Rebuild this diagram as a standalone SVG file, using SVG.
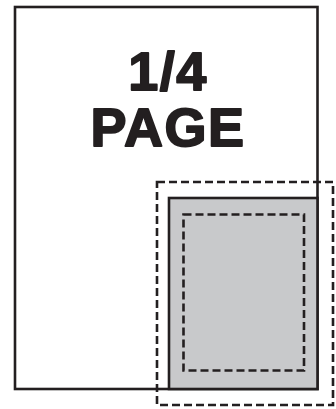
<svg xmlns="http://www.w3.org/2000/svg" width="336" height="409" viewBox="0 0 336 409">
<style>
.line{fill:none;stroke:#231f20;stroke-width:2.6}
.dash{fill:none;stroke:#231f20;stroke-width:2.6;stroke-dasharray:8 4}
.label{font-family:"Liberation Sans",Arial,sans-serif;font-weight:bold;font-size:54px;letter-spacing:1.5px;fill:#231f20;stroke:#231f20;stroke-width:1.8;stroke-linejoin:round;text-anchor:middle}
</style>
<rect width="336" height="409" fill="#fff"/>
<g id="page">
<rect class="line" x="15" y="7" width="302.5" height="382"/>
<text class="label"><tspan x="168" y="89.5">1/4</tspan><tspan x="168" y="146">PAGE</tspan></text>
</g>
<g id="quarter">
<rect x="169" y="198" width="148.5" height="191" fill="#c8c9cb" stroke="#231f20" stroke-width="2.6"/>
</g>
<g id="bleed">
<rect class="dash" x="157" y="182" width="176" height="223"/>
</g>
<g id="safe">
<rect class="dash" x="183.5" y="214.5" width="120.5" height="156"/>
</g>
</svg>
